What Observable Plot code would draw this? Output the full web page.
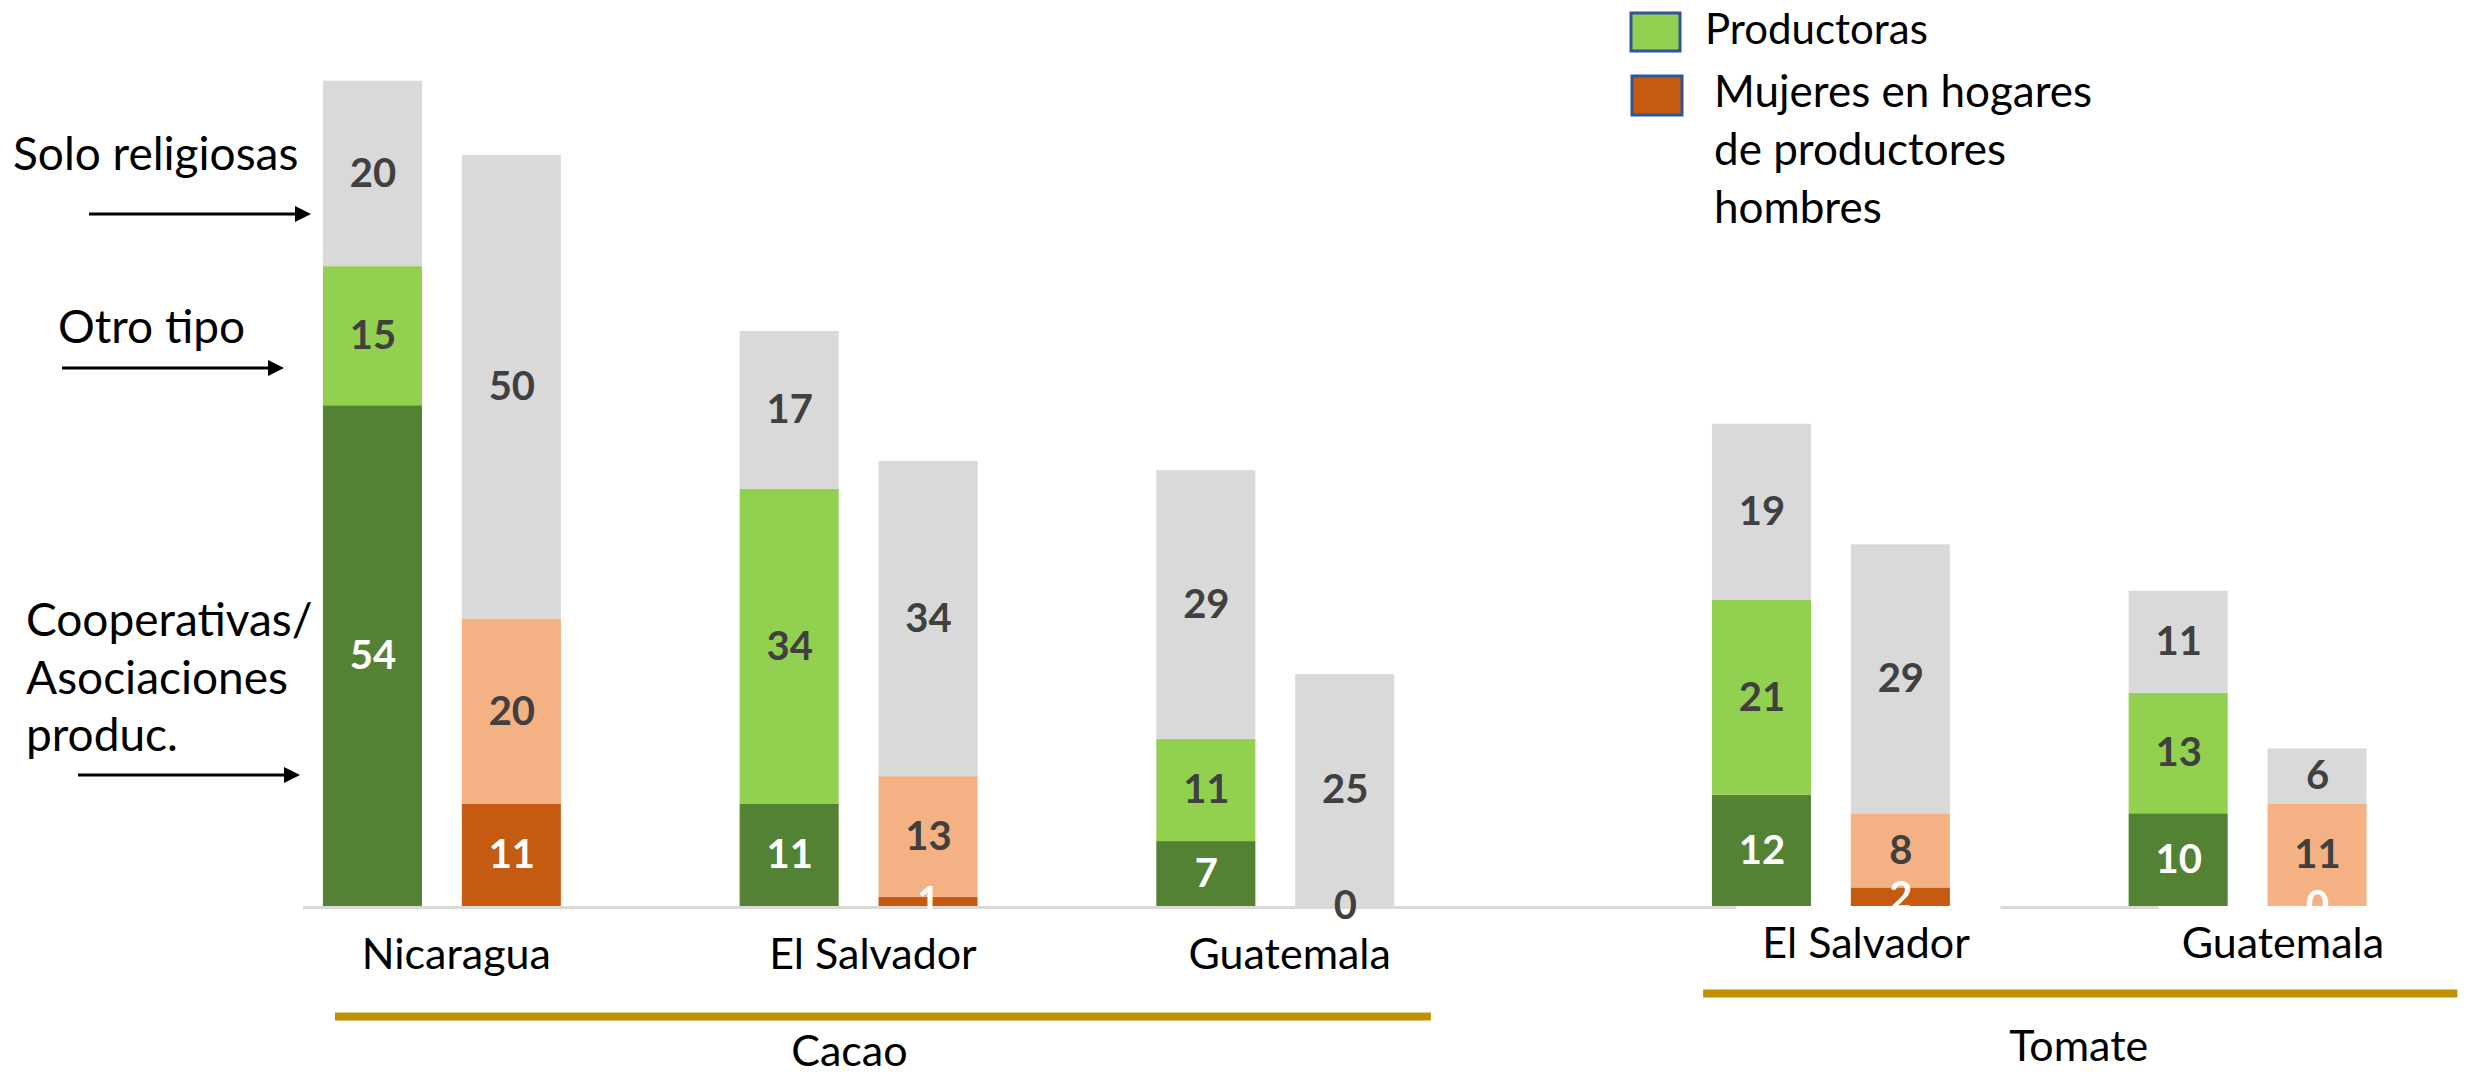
<!DOCTYPE html>
<html><head><meta charset="utf-8">
<script src="https://cdn.jsdelivr.net/npm/d3@7"></script>
<script src="https://cdn.jsdelivr.net/npm/@observablehq/plot@0.6"></script>
<style>
html,body{margin:0;padding:0;background:#fff;}
#wrap{position:relative;width:2466px;height:1074px;overflow:hidden;font-family:Lato,"Open Sans",sans-serif;}
#wrap svg{position:absolute;left:0;top:0;}
</style></head><body><div id="wrap"></div>
<script>
// ---- data ----
const crops = ["Cacao", "Cacao", "Cacao", "Tomate", "Tomate"];
const countries = ["Nicaragua", "El Salvador", "Guatemala", "El Salvador", "Guatemala"];
// Productoras
const prodCoop  = [54, 11, 7, 12, 10];
const prodOtro  = [15, 34, 11, 21, 13];
const prodRelig = [20, 17, 29, 19, 11];
// Mujeres en hogares de productores hombres
const mujCoop  = [11, 1, 0, 2, 0];
const mujOtro  = [20, 13, 0, 8, 11];
const mujRelig = [50, 34, 25, 29, 6];
const cropNames = ["Cacao", "Tomate"];
const legendLabels = ["Productoras", "Mujeres en hogares de productores hombres"];
const annotations = ["Solo religiosas", "Otro tipo", "Cooperativas/ Asociaciones produc."];

// ---- styles ----
const fills = [["#548235", "#92D050", "#D9D9D9"], ["#C55A11", "#F4B183", "#D9D9D9"]];
const labelFills = [["#ffffff", "#404040", "#404040"], ["#ffffff", "#404040", "#404040"]];
const FONT = "Lato, 'Open Sans', sans-serif";

// ---- layout: slot index per group ----
const slots = [];
let s = 0;
countries.forEach((c, i) => {
  if (i > 0) s += crops[i] !== crops[i - 1] ? 4 : 3;
  slots.push(s);
});

const segs = [];
countries.forEach((c, i) => {
  [[prodCoop, prodOtro, prodRelig], [mujCoop, mujOtro, mujRelig]].forEach((series, b) => {
    let y0 = 0;
    series.forEach((arr, k) => {
      const v = arr[i];
      segs.push({crop: crops[i], country: c, bar: b, type: k, value: v, x: slots[i] + b, y1: y0, y2: y0 + v});
      y0 += v;
    });
  });
});

const groups = countries.map((c, i) => ({country: c, crop: crops[i], x: slots[i] + 0.5}));
const cropInfo = cropNames.map(name => {
  const sl = slots.filter((d, i) => crops[i] === name);
  return {crop: name, lo: d3.min(sl), hi: d3.max(sl) + 1};
});

const HW = 0.3565;
const labelOffset = {Cacao: 0.1, Tomate: 0.25};
const labelDy = {Cacao: 62, Tomate: 51};
const cropLabelOffset = {Cacao: -0.07, Tomate: 0.28};
const cropLabelDy = {Cacao: 159, Tomate: 154};
const cropRule = {Cacao: {a: -0.27, b: 7.62, dy: 110}, Tomate: {a: 9.58, b: 15.01, dy: 87}};

const valueText = (data, clip) => Plot.text(data, {
  x: "x", y: d => (d.y1 + d.y2) / 2, text: d => String(d.value),
  fill: d => labelFills[d.bar][d.type], fontWeight: "bold", fontSize: 40, clip
});

const chart = Plot.plot({
  width: 2466, height: 1074,
  marginLeft: 303, marginRight: 79.5, marginTop: 0, marginBottom: 168,
  x: {type: "linear", domain: [-0.5, d3.max(slots) + 1.5], axis: null},
  y: {domain: [0, 97.7], axis: null},
  color: {type: "identity"},
  style: {fontFamily: FONT, background: "transparent", overflow: "visible"},
  marks: [
    // baselines
    Plot.ruleY([{a: -0.5, b: 9.82}, {a: 11.72, b: 12.86}], {y: () => 0, x1: "a", x2: "b", stroke: "#D9D9D9", strokeWidth: 3, dy: 1}),
    // bars
    Plot.rectY(segs, {x1: d => d.x - HW, x2: d => d.x + HW, y1: "y1", y2: "y2", fill: d => fills[d.bar][d.type]}),
    valueText(segs.filter(d => d.crop === "Cacao"), false),
    valueText(segs.filter(d => d.crop === "Tomate"), true),
    // category labels
    ...cropNames.map(cn => Plot.text(groups.filter(g => g.crop === cn), {
      x: d => d.x + labelOffset[cn], text: "country", frameAnchor: "bottom", lineAnchor: "bottom",
      dy: labelDy[cn], fontSize: 43, fill: "#000"
    })),
    // crop group rules and labels
    ...cropInfo.map(ci => Plot.ruleY([ci], {y: () => 0, x1: () => cropRule[ci.crop].a, x2: () => cropRule[ci.crop].b,
      dy: cropRule[ci.crop].dy, stroke: "#BF9000", strokeWidth: 8})),
    ...cropInfo.map(ci => Plot.text([ci], {x: d => (d.lo + d.hi) / 2 + cropLabelOffset[d.crop], text: "crop",
      frameAnchor: "bottom", lineAnchor: "bottom", dy: cropLabelDy[ci.crop], fontSize: 43, fill: "#000"}))
  ]
});
document.getElementById("wrap").appendChild(chart);

// ---- overlay: annotations with arrows and legend ----
const ov = d3.select("#wrap").append("svg").attr("width", 2466).attr("height", 1074)
  .style("font-family", FONT).style("pointer-events", "none");

function arrow(x1, x2, y) {
  ov.append("line").attr("x1", x1).attr("x2", x2 - 12).attr("y1", y).attr("y2", y)
    .attr("stroke", "#000").attr("stroke-width", 3);
  ov.append("polygon").attr("points", `${x2},${y} ${x2 - 16},${y - 8} ${x2 - 16},${y + 8}`).attr("fill", "#000");
}
function lines(x, y0, step, arr, size) {
  arr.forEach((t, i) => ov.append("text").attr("x", x).attr("y", y0 + i * step)
    .attr("font-size", size).attr("fill", "#000").text(t));
}
lines(13, 170, 0, [annotations[0]], 46);
arrow(89, 311, 214);
lines(58, 343, 0, [annotations[1]], 46);
arrow(62, 284, 368);
lines(26, 636, 57.5, ["Cooperativas/", "Asociaciones", "produc."], 46);
arrow(78, 300, 775);

// legend
ov.append("rect").attr("x", 1631).attr("y", 13).attr("width", 49).attr("height", 38)
  .attr("fill", fills[0][1]).attr("stroke", "#2F5597").attr("stroke-width", 3);
ov.append("rect").attr("x", 1632).attr("y", 76).attr("width", 50).attr("height", 39)
  .attr("fill", fills[1][0]).attr("stroke", "#2F5597").attr("stroke-width", 3);
lines(1705, 44, 0, [legendLabels[0]], 42);
lines(1714, 107, 58, ["Mujeres en hogares", "de productores", "hombres"], 44);
</script></body></html>
